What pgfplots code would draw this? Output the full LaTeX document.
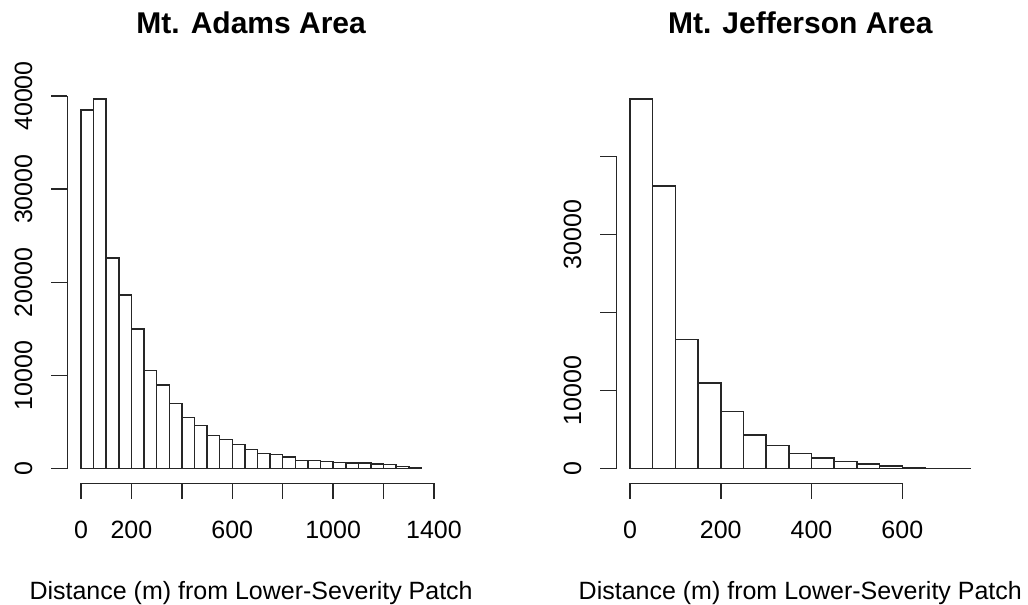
\documentclass[border=0pt]{standalone}
\usepackage{pgfplots}
\pgfplotsset{compat=1.18}
\usepackage{fontspec}
\setmainfont{Liberation Sans}

\pgfplotstableread{
x y
0 38490
50 39700
100 22630
150 18620
200 15000
250 10560
300 8990
350 7020
400 5480
450 4620
500 3580
550 3110
600 2580
650 2060
700 1630
750 1540
800 1256
850 898
900 862
950 755
1000 648
1050 612
1100 612
1150 504
1200 433
1250 254
1300 111
1350 0
}\adams

\pgfplotstableread{
x y
0 47390
50 36240
100 16580
150 10980
200 7350
250 4316
300 3000
350 1966
400 1340
450 900
500 598
550 342
600 140
650 45
700 15
750 0
}\jefferson

\begin{document}
\begin{tikzpicture}[line width=1.5pt]
\path[use as bounding box] (0,0) rectangle (1028pt,605pt);
\fontsize{25}{30}\selectfont

% ---------------- Left panel ----------------
\begin{axis}[
  at={(67.4pt,121.5pt)}, anchor=south west,
  scale only axis, width=367.6pt, height=399.5pt,
  xmin=-54, xmax=1404, ymin=-1588, ymax=41288,
  hide axis, clip=false,
]
\addplot[ybar interval, draw=black!85, fill=white, line width=1.5pt] table[x=x,y=y] {\adams};
\pgfplotsinvokeforeach{0,10000,20000,30000,40000}{
  \coordinate (LY#1) at (axis cs:-54,#1);
}
\pgfplotsinvokeforeach{0,200,400,600,800,1000,1200,1400}{
  \coordinate (LX#1) at (axis cs:#1,-1588);
}
\end{axis}

% ---------------- Right panel ----------------
\begin{axis}[
  at={(616.4pt,121.5pt)}, anchor=south west,
  scale only axis, width=367.6pt, height=399.5pt,
  xmin=-30, xmax=780, ymin=-1896, ymax=49286,
  hide axis, clip=false,
]
\addplot[ybar interval, draw=black!85, fill=white, line width=1.5pt] table[x=x,y=y] {\jefferson};
\pgfplotsinvokeforeach{0,10000,20000,30000,40000}{
  \coordinate (RY#1) at (axis cs:-30,#1);
}
\pgfplotsinvokeforeach{0,200,400,600}{
  \coordinate (RX#1) at (axis cs:#1,-1896);
}
\end{axis}

% ---- R-style axes, drawn from the axes' own coordinates ----
\begin{scope}[line width=1.5pt, draw=black!85]
\draw (LY0) -- (LY40000);
\foreach \v in {0,10000,20000,30000,40000}{
  \draw (LY\v) -- ++(-16pt,0);
  \node[rotate=90, anchor=base, inner sep=0pt, font=\fontsize{25}{30}\selectfont] at ([xshift=-35.4pt]LY\v) {\v};
}
\draw (LX0) -- (LX1400);
\foreach \v in {0,200,400,600,800,1000,1200,1400}{
  \draw (LX\v) -- ++(0,-16pt);
}
\foreach \v in {0,200,600,1000,1400}{
  \node[anchor=base, inner sep=0pt, font=\fontsize{25}{30}\selectfont] at ([yshift=-54.8pt]LX\v) {\v};
}

\draw (RY0) -- (RY40000);
\foreach \v in {0,10000,20000,30000,40000}{
  \draw (RY\v) -- ++(-16pt,0);
}
\foreach \v in {0,10000,30000}{
  \node[rotate=90, anchor=base, inner sep=0pt, font=\fontsize{25}{30}\selectfont] at ([xshift=-35.4pt]RY\v) {\v};
}
\draw (RX0) -- (RX600);
\foreach \v in {0,200,400,600}{
  \draw (RX\v) -- ++(0,-16pt);
  \node[anchor=base, inner sep=0pt, font=\fontsize{25}{30}\selectfont] at ([yshift=-54.8pt]RX\v) {\v};
}
\end{scope}

% titles and labels
\node[anchor=base, inner sep=0pt, font=\fontsize{30}{36}\selectfont\bfseries] at (251.1pt,571.7pt) {Mt. Adams Area};
\node[anchor=base, inner sep=0pt, font=\fontsize{30}{36}\selectfont\bfseries] at (800.3pt,571.7pt) {Mt. Jefferson Area};
\node[anchor=base, inner sep=0pt, font=\fontsize{25}{30}\selectfont] at (251.1pt,5.8pt) {Distance (m) from Lower-Severity Patch};
\node[anchor=base, inner sep=0pt, font=\fontsize{25}{30}\selectfont] at (800.3pt,5.8pt) {Distance (m) from Lower-Severity Patch};
\end{tikzpicture}
\end{document}
